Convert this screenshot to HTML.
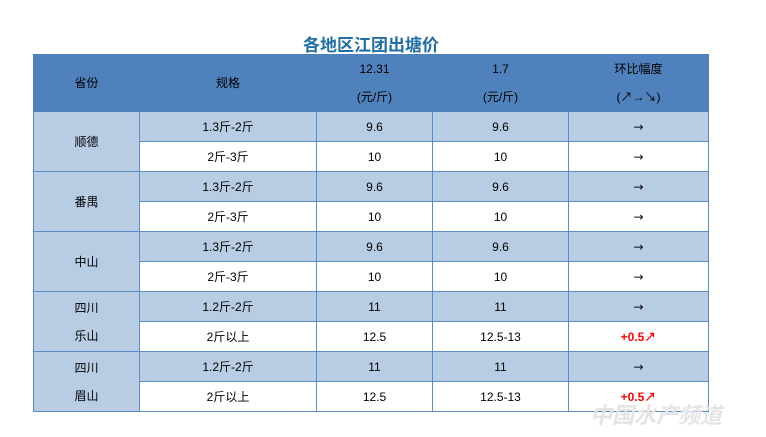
<!DOCTYPE html>
<html><head><meta charset="utf-8"><style>
body{margin:0;width:766px;height:437px;background:#fff;position:relative;overflow:hidden;font-family:"Liberation Sans","Noto Sans CJK SC",sans-serif;}
.t{position:absolute;left:0;width:742px;top:31px;text-align:center;font-size:17px;font-weight:bold;color:#1f6fa6;}
table{position:absolute;left:33px;top:54px;border-collapse:collapse;font-size:12px;color:#000;line-height:14px;}
td{border:1px solid #5b8cc6;text-align:center;padding:0;height:29px;box-sizing:border-box;}
tr{height:30px}
.h{height:57px}
.h td{background:#4f81bd;border-color:#4f81bd;height:57px;line-height:28px;}
.l td.c{background:#b8cce4}
.w td.c{background:#fff}
td.p{background:#b8cce4;line-height:28px}
.a{font-family:"DejaVu Sans",sans-serif;font-size:12px;color:#102}
.r{color:#f00;font-weight:bold}
.wm{position:absolute;left:590px;top:398px;font-size:22px;font-weight:bold;color:#e4e4e4;font-style:italic;}
</style></head><body>
<div class="t">各地区江团出塘价</div>
<table>
<colgroup><col style="width:106px"><col style="width:177px"><col style="width:116px"><col style="width:136px"><col style="width:140px"></colgroup>
<tr class="h"><td>省份</td><td>规格</td><td>12.31<br>(元/斤)</td><td>1.7<br>(元/斤)</td><td>环比幅度<br>(↗→↘)</td></tr>
<tr class="l"><td class="p" rowspan="2">顺德</td><td class="c">1.3斤-2斤</td><td class="c">9.6</td><td class="c">9.6</td><td class="c a">→</td></tr>
<tr class="w"><td class="c">2斤-3斤</td><td class="c">10</td><td class="c">10</td><td class="c a">→</td></tr>
<tr class="l"><td class="p" rowspan="2">番禺</td><td class="c">1.3斤-2斤</td><td class="c">9.6</td><td class="c">9.6</td><td class="c a">→</td></tr>
<tr class="w"><td class="c">2斤-3斤</td><td class="c">10</td><td class="c">10</td><td class="c a">→</td></tr>
<tr class="l"><td class="p" rowspan="2">中山</td><td class="c">1.3斤-2斤</td><td class="c">9.6</td><td class="c">9.6</td><td class="c a">→</td></tr>
<tr class="w"><td class="c">2斤-3斤</td><td class="c">10</td><td class="c">10</td><td class="c a">→</td></tr>
<tr class="l"><td class="p" rowspan="2">四川<br>乐山</td><td class="c">1.2斤-2斤</td><td class="c">11</td><td class="c">11</td><td class="c a">→</td></tr>
<tr class="w"><td class="c">2斤以上</td><td class="c">12.5</td><td class="c">12.5-13</td><td class="c r">+0.5↗</td></tr>
<tr class="l"><td class="p" rowspan="2">四川<br>眉山</td><td class="c">1.2斤-2斤</td><td class="c">11</td><td class="c">11</td><td class="c a">→</td></tr>
<tr class="w"><td class="c">2斤以上</td><td class="c">12.5</td><td class="c">12.5-13</td><td class="c r">+0.5↗</td></tr>
</table>
<div class="wm">中国水产频道</div>
</body></html>
